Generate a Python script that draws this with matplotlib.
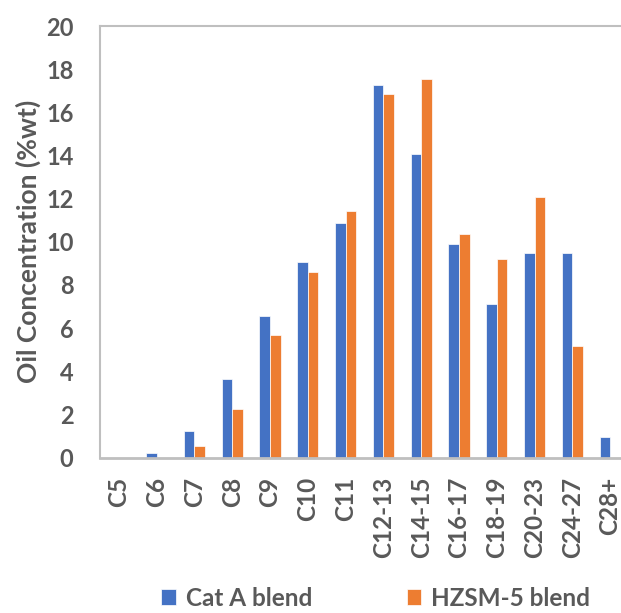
import matplotlib.pyplot as plt
import numpy as np

plt.rcParams['font.family'] = ['Lato', 'DejaVu Sans']
plt.rcParams['font.weight'] = 'bold'
plt.rcParams['axes.labelweight'] = 'bold'

# Data
categories = ['C5', 'C6', 'C7', 'C8', 'C9', 'C10', 'C11', 'C12-13', 'C14-15',
              'C16-17', 'C18-19', 'C20-23', 'C24-27', 'C28+']
cat_a = [0, 0.19, 1.23, 3.62, 6.56, 9.08, 10.85, 17.27, 14.05, 9.9, 7.1, 9.48, 9.48, 0.94]
hzsm5 = [0, 0, 0.55, 2.25, 5.68, 8.6, 11.41, 16.86, 17.54, 10.37, 9.21, 12.07, 5.18, 0]

grey = '#595959'
blue = '#4472C4'
orange = '#ED7D31'

fig = plt.figure(figsize=(6.21, 6.13), dpi=100)
ax = fig.add_axes([100/621, 1 - 457.5/613, 529/621, 431.5/613])

x = np.arange(len(categories))
w = 0.28
ax.bar(x - w/2, cat_a, w, color=blue, edgecolor='white', linewidth=0.5, label='Cat A blend')
ax.bar(x + w/2, hzsm5, w, color=orange, edgecolor='white', linewidth=0.5, label='HZSM-5 blend')

ax.set_xlim(-0.5, len(categories) - 0.5)
ax.set_ylim(0, 20)
ax.set_yticks(range(0, 21, 2))
ax.set_xticks(x)
ax.set_xticklabels(categories, rotation=90)
ax.tick_params(axis='y', length=0, labelsize=17, labelcolor=grey, pad=19)
ax.tick_params(axis='x', length=0, labelsize=17.5, labelcolor=grey, pad=14)

for s in ax.spines.values():
    s.set_color('#BFBFBF')
    s.set_linewidth(1.5)
ax.spines['bottom'].set_linewidth(2)

ax.set_ylabel('Oil Concentration (%wt)', fontsize=19, color=grey, labelpad=4)

fig.legend(loc='lower center', bbox_to_anchor=(0.605, -0.03), ncol=2, frameon=False,
           fontsize=17.5, labelcolor=grey, handlelength=0.6, handleheight=0.6,
           handletextpad=0.4, columnspacing=3.9)

fig.savefig('out.png', dpi=100)
